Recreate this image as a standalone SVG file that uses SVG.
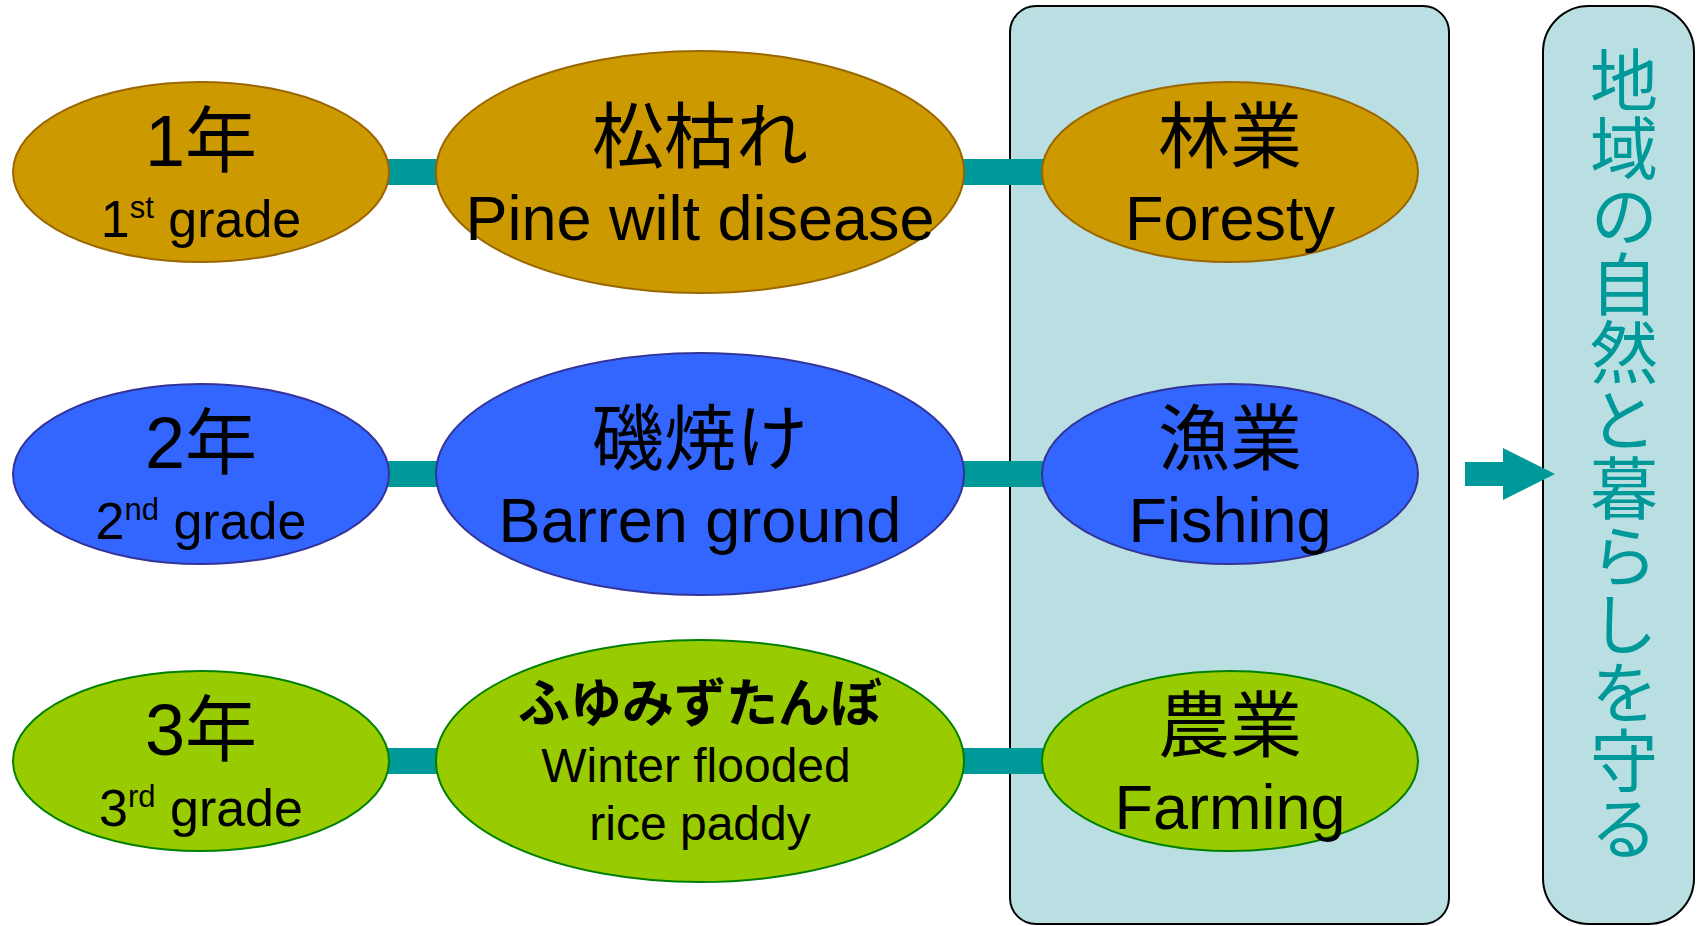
<svg xmlns="http://www.w3.org/2000/svg" width="1698" height="926" viewBox="0 0 1698 926">
<style>
  .panel { fill: #BADFE3; stroke: #000; stroke-width: 2; }
  .r1 { fill: #CC9900; stroke: #996600; stroke-width: 2; }
  .r2 { fill: #3366FF; stroke: #333399; stroke-width: 2; }
  .r3 { fill: #99CC00; stroke: #008000; stroke-width: 2; }
  .bar { stroke: #009999; stroke-width: 26; }
  text { font-family: "Liberation Sans", "Noto Sans CJK JP", sans-serif; fill: #000; text-anchor: middle; }
  .big { font-size: 72px; }
  .grade { font-size: 52px; }
  .sup { font-size: 31px; }
  .en { font-size: 63px; }
  .en2 { font-size: 48px; }
  .kana { font-size: 52px; font-weight: bold; }
  .vert { font-size: 68px; fill: #009999; font-family: "Noto Sans CJK JP", sans-serif; writing-mode: vertical-rl; text-anchor: start; }
</style>

<g id="panel-industry">
  <rect class="panel" x="1010" y="6" width="439" height="918" rx="26" ry="26"/>
</g>

<g id="panel-goal">
  <rect class="panel" x="1543" y="6" width="151" height="918" rx="46" ry="46"/>
  <text class="vert" x="1624" y="46">地域の自然と暮らしを守る</text>
</g>

<g id="connectors">
  <line class="bar" x1="380" y1="172" x2="450" y2="172"/>
  <line class="bar" x1="950" y1="172" x2="1055" y2="172"/>
  <line class="bar" x1="380" y1="474" x2="450" y2="474"/>
  <line class="bar" x1="950" y1="474" x2="1055" y2="474"/>
  <line class="bar" x1="380" y1="761" x2="450" y2="761"/>
  <line class="bar" x1="950" y1="761" x2="1055" y2="761"/>
  <polygon id="arrow" fill="#009999" points="1465,462 1503,462 1503,448 1555,474 1503,500 1503,486 1465,486"/>
</g>

<g id="grade1">
  <ellipse class="r1" cx="201" cy="172" rx="188" ry="90"/>
  <text class="big" x="201" y="166">1年</text>
  <text class="grade" x="201" y="237">1<tspan class="sup" dy="-19">st</tspan><tspan dy="19"> grade</tspan></text>
</g>
<g id="pine">
  <ellipse class="r1" cx="700" cy="172" rx="264" ry="121"/>
  <text class="big" x="700" y="162">松枯れ</text>
  <text class="en" x="700" y="240">Pine wilt disease</text>
</g>
<g id="forestry">
  <ellipse class="r1" cx="1230" cy="172" rx="188" ry="90"/>
  <text class="big" x="1230" y="162">林業</text>
  <text class="en" x="1230" y="240">Foresty</text>
</g>

<g id="grade2">
  <ellipse class="r2" cx="201" cy="474" rx="188" ry="90"/>
  <text class="big" x="201" y="468">2年</text>
  <text class="grade" x="201" y="539">2<tspan class="sup" dy="-19">nd</tspan><tspan dy="19"> grade</tspan></text>
</g>
<g id="barren">
  <ellipse class="r2" cx="700" cy="474" rx="264" ry="121"/>
  <text class="big" x="700" y="464">磯焼け</text>
  <text class="en" x="700" y="542">Barren ground</text>
</g>
<g id="fishing">
  <ellipse class="r2" cx="1230" cy="474" rx="188" ry="90"/>
  <text class="big" x="1230" y="464">漁業</text>
  <text class="en" x="1230" y="542">Fishing</text>
</g>

<g id="grade3">
  <ellipse class="r3" cx="201" cy="761" rx="188" ry="90"/>
  <text class="big" x="201" y="755">3年</text>
  <text class="grade" x="201" y="826">3<tspan class="sup" dy="-19">rd</tspan><tspan dy="19"> grade</tspan></text>
</g>
<g id="paddy">
  <ellipse class="r3" cx="700" cy="761" rx="264" ry="121"/>
  <text class="kana" x="700" y="722">ふゆみずたんぼ</text>
  <text class="en2" x="696" y="782">Winter flooded</text>
  <text class="en2" x="700" y="840">rice paddy</text>
</g>
<g id="farming">
  <ellipse class="r3" cx="1230" cy="761" rx="188" ry="90"/>
  <text class="big" x="1230" y="751">農業</text>
  <text class="en" x="1230" y="829">Farming</text>
</g>
</svg>
